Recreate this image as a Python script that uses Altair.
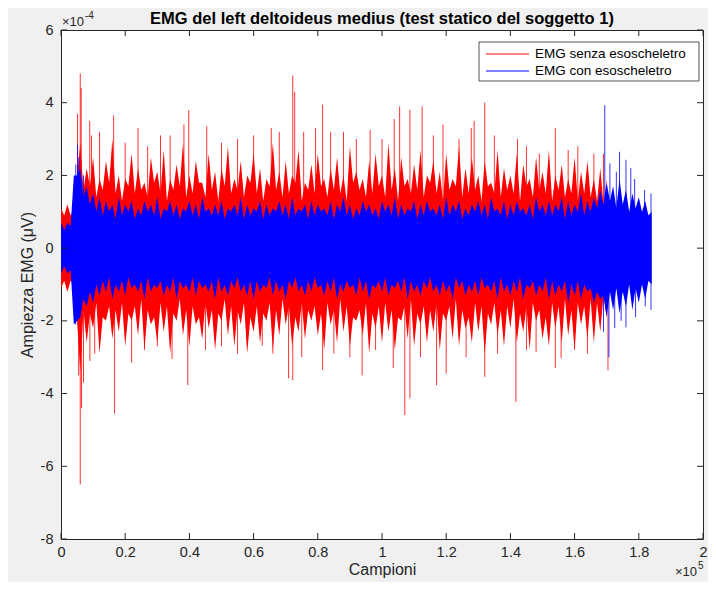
import altair as alt
import pandas as pd

RED_NAME = "EMG senza esoscheletro"
BLUE_NAME = "EMG con esoscheletro"
TITLE = "EMG del left deltoideus medius (test statico del soggetto 1)"

# ---- axis ticks (x in samples, y in units of 1e-4) ----
XTICKS = list(range(0, 200001, 20000))
YTICKS = [-8, -6, -4, -2, 0, 2, 4, 6]

# ---- red series (senza esoscheletro) ----
# local peaks of the envelope, every 2000 samples
RED_X = list(range(0, 170001, 2000))
RED_TOP = [1.1, 1.2, 1.1, 2.9, 2.2, 2.5, 1.9, 2.4, 3.0, 2.0,
           1.9, 2.6, 2.2, 1.8, 2.5, 2.1, 2.7, 1.9, 2.3, 2.9,
           2.0, 2.4, 1.8, 2.6, 2.1, 2.2, 2.8, 1.9, 2.4, 2.0,
           2.6, 2.2, 1.9, 2.9, 2.1, 2.4, 2.0, 2.7, 1.8, 2.3,
           2.6, 1.9, 2.2, 2.5, 2.0, 2.8, 2.1, 1.9, 2.4, 2.6,
           2.0, 2.9, 2.2, 2.5, 1.9, 2.3, 2.7, 2.0, 2.4, 2.1,
           2.6, 1.9, 2.8, 2.2, 2.5, 2.0, 2.4, 1.8, 2.7, 2.2,
           2.0, 2.6, 2.3, 1.9, 2.5, 2.1, 2.7, 2.0, 2.3, 1.9,
           2.5, 2.1, 2.4, 1.9, 2.2, 1.9]
RED_BOT = [-1.1, -1.2, -1.0, -3.4, -2.6, -2.2, -2.9, -2.0, -2.5, -2.3,
           -2.7, -2.0, -2.4, -2.8, -2.1, -2.6, -2.3, -2.9, -2.0, -2.4,
           -2.7, -2.1, -2.5, -2.2, -2.8, -2.0, -2.4, -2.7, -2.1, -2.9,
           -2.3, -2.6, -2.0, -2.8, -2.4, -2.1, -2.7, -2.3, -2.5, -2.0,
           -2.4, -2.8, -2.1, -2.6, -2.3, -2.7, -2.0, -2.4, -2.9, -2.2,
           -2.6, -2.3, -2.8, -2.0, -2.5, -2.7, -2.1, -2.6, -2.3, -2.8,
           -2.0, -2.5, -2.7, -2.2, -2.6, -2.3, -2.9, -2.1, -2.4, -2.7,
           -2.2, -2.6, -2.3, -2.8, -2.0, -2.5, -2.7, -2.2, -2.6, -2.4,
           -2.8, -2.1, -2.5, -2.6, -2.3, -1.9]
# local valleys of the envelope, in between the peaks
RED_VX = list(range(1000, 170000, 2000))
RED_VTOP = [0.9, 0.9, 1.9, 1.6, 1.7, 1.4, 1.6, 1.8, 1.5, 1.3,
            1.7, 1.5, 1.6, 1.4, 1.8, 1.5, 1.3, 1.6, 1.7, 1.4,
            1.5, 1.8, 1.4, 1.6, 1.3, 1.7, 1.5, 1.6, 1.4, 1.8,
            1.5, 1.3, 1.7, 1.6, 1.4, 1.5, 1.8, 1.3, 1.6, 1.5,
            1.7, 1.4, 1.6, 1.5, 1.3, 1.8, 1.6, 1.4, 1.5, 1.7,
            1.4, 1.6, 1.3, 1.7, 1.5, 1.6, 1.4, 1.8, 1.5, 1.3,
            1.6, 1.7, 1.4, 1.5, 1.6, 1.3, 1.7, 1.5, 1.4, 1.6,
            1.5, 1.3, 1.7, 1.4, 1.6, 1.5, 1.3, 1.6, 1.4, 1.5,
            1.3, 1.5, 1.4, 1.3, 1.2]
RED_VBOT = [-0.9, -0.9, -2.0, -1.7, -1.8, -1.5, -1.9, -1.6, -1.7, -1.5,
            -1.8, -1.6, -1.4, -1.7, -1.9, -1.5, -1.6, -1.8, -1.4, -1.7,
            -1.6, -1.9, -1.5, -1.7, -1.8, -1.4, -1.6, -1.7, -1.5, -1.9,
            -1.6, -1.8, -1.5, -1.7, -1.4, -1.6, -1.9, -1.5, -1.7, -1.6,
            -1.8, -1.5, -1.7, -1.4, -1.6, -1.9, -1.7, -1.5, -1.8, -1.6,
            -1.5, -1.7, -1.9, -1.6, -1.4, -1.8, -1.6, -1.7, -1.5, -1.8,
            -1.6, -1.4, -1.7, -1.9, -1.5, -1.6, -1.8, -1.5, -1.7, -1.6,
            -1.4, -1.8, -1.6, -1.5, -1.7, -1.9, -1.5, -1.6, -1.4, -1.7,
            -1.5, -1.6, -1.4, -1.5, -1.3]

# prominent red spikes
RED_SPK_UP_X = [5150, 6000, 6300, 8950, 9500, 12000, 16400, 20000, 24000, 27000,
                31000, 34000, 38300, 39800, 45400, 50000, 55000, 60000, 65500, 68000,
                72200, 72800, 75600, 79300, 81500, 84000, 88000, 92000, 96300, 100000,
                103800, 105500, 108700, 112500, 116000, 119000, 124000, 127800, 128700, 132000,
                135000, 142200, 145000, 149000, 154000, 158000, 161000, 166000, 169000]
RED_SPK_UP_V = [3.7, 4.8, 4.4, 3.5, 3.1, 3.2, 3.65, 2.9, 3.3, 2.8,
                3.1, 3.1, 3.4, 3.8, 3.35, 2.9, 3.0, 3.1, 3.3, 3.2,
                4.75, 4.3, 3.2, 3.3, 3.95, 3.2, 3.2, 3.0, 3.25, 3.0,
                3.55, 3.9, 3.8, 3.9, 3.1, 3.4, 3.0, 3.3, 3.5, 4.0,
                3.1, 3.0, 2.8, 2.6, 3.3, 2.7, 2.8, 2.6, 2.6]
RED_SPK_DN_X = [5500, 6000, 6400, 7000, 9000, 10500, 16700, 22000, 26000, 30000,
                34600, 39500, 45000, 50000, 55000, 58000, 62700, 66000, 70900, 72200,
                75000, 81500, 85000, 90000, 93800, 98000, 103500, 107100, 108700, 112000,
                117000, 120000, 126200, 132000, 136000, 141700, 145000, 148000, 154000, 155800,
                160000, 164000, 170400]
RED_SPK_DN_V = [-3.5, -6.5, -4.4, -3.7, -3.1, -2.9, -4.55, -3.15, -2.8, -2.7,
                -3.05, -3.77, -2.8, -2.7, -2.9, -2.6, -2.68, -2.9, -3.58, -3.63,
                -3.0, -3.35, -2.9, -3.0, -3.5, -2.8, -3.3, -4.59, -4.13, -3.0,
                -3.77, -3.45, -3.0, -3.54, -2.9, -4.23, -2.8, -2.85, -3.3, -3.03,
                -2.8, -2.9, -3.36]

# ---- blue series (con esoscheletro) ----
BLUE_X = list(range(0, 184001, 2000))
BLUE_TOP = [0.7, 0.7, 2.0, 2.2, 1.7, 1.5, 1.4, 1.3, 1.2, 1.4,
            1.2, 1.3, 1.1, 1.3, 1.2, 1.4, 1.1, 1.3, 1.2, 1.1,
            1.3, 1.2, 1.4, 1.1, 1.2, 1.3, 1.1, 1.2, 1.4, 1.2,
            1.1, 1.3, 1.2, 1.1, 1.3, 1.2, 1.4, 1.1, 1.2, 1.3,
            1.2, 1.1, 1.3, 1.2, 1.4, 1.2, 1.1, 1.3, 1.2, 1.1,
            1.3, 1.2, 1.4, 1.2, 1.1, 1.3, 1.2, 1.3, 1.1, 1.2,
            1.4, 1.2, 1.3, 1.1, 1.2, 1.3, 1.2, 1.4, 1.1, 1.3,
            1.2, 1.3, 1.1, 1.2, 1.4, 1.2, 1.3, 1.2, 1.4, 1.3,
            1.2, 1.5, 1.3, 1.4, 1.6, 1.8, 1.7, 1.9, 1.6, 1.5,
            1.4, 1.3, 1.0]
BLUE_BOT = [-0.7, -0.7, -2.1, -1.9, -1.6, -1.5, -1.3, -1.2, -1.4, -1.2,
            -1.3, -1.1, -1.2, -1.4, -1.2, -1.1, -1.3, -1.2, -1.4, -1.1,
            -1.2, -1.3, -1.1, -1.2, -1.4, -1.2, -1.3, -1.1, -1.2, -1.3,
            -1.4, -1.2, -1.1, -1.3, -1.2, -1.4, -1.1, -1.2, -1.3, -1.2,
            -1.1, -1.3, -1.2, -1.4, -1.2, -1.1, -1.3, -1.2, -1.4, -1.1,
            -1.2, -1.3, -1.1, -1.2, -1.4, -1.2, -1.3, -1.1, -1.2, -1.3,
            -1.2, -1.4, -1.1, -1.3, -1.2, -1.3, -1.1, -1.2, -1.4, -1.2,
            -1.3, -1.2, -1.4, -1.1, -1.3, -1.2, -1.4, -1.3, -1.2, -1.5,
            -1.3, -1.4, -1.2, -1.5, -1.4, -1.9, -1.7, -1.8, -1.6, -1.7,
            -1.5, -1.4, -1.0]
BLUE_VX = list(range(1000, 184000, 2000))
BLUE_VTOP = [0.5, 0.6, 2.0, 1.4, 1.2, 1.0, 0.9, 1.0, 0.8, 0.9,
             1.0, 0.8, 0.9, 1.0, 0.9, 0.8, 1.0, 0.9, 0.8, 1.0,
             0.9, 0.8, 1.0, 0.9, 0.9, 0.8, 1.0, 0.9, 0.8, 0.9,
             1.0, 0.8, 0.9, 1.0, 0.9, 0.8, 0.9, 1.0, 0.8, 0.9,
             1.0, 0.9, 0.8, 1.0, 0.9, 0.8, 0.9, 1.0, 0.9, 0.8,
             1.0, 0.9, 0.8, 0.9, 1.0, 0.8, 0.9, 1.0, 0.9, 0.8,
             0.9, 1.0, 0.8, 0.9, 1.0, 0.9, 0.8, 1.0, 0.9, 0.8,
             0.9, 1.0, 0.9, 0.8, 1.0, 0.9, 0.9, 1.0, 0.8, 0.9,
             1.0, 0.9, 1.0, 1.1, 1.2, 1.3, 1.1, 1.2, 1.0, 1.1,
             1.0, 0.9]
BLUE_VBOT = [-0.5, -0.6, -2.0, -1.4, -1.2, -1.0, -0.9, -0.8, -1.0, -0.9,
             -0.8, -1.0, -0.9, -0.8, -1.0, -0.9, -1.0, -0.8, -0.9, -1.0,
             -0.8, -0.9, -1.0, -0.9, -0.8, -1.0, -0.9, -0.8, -1.0, -0.9,
             -0.9, -1.0, -0.8, -0.9, -1.0, -0.9, -0.8, -1.0, -0.9, -0.8,
             -1.0, -0.9, -0.8, -1.0, -0.9, -1.0, -0.8, -0.9, -1.0, -0.9,
             -0.8, -1.0, -0.9, -0.8, -0.9, -1.0, -0.9, -0.8, -1.0, -0.9,
             -1.0, -0.8, -0.9, -1.0, -0.9, -0.8, -1.0, -0.9, -0.8, -1.0,
             -0.9, -0.8, -1.0, -0.9, -1.0, -0.8, -0.9, -1.0, -0.9, -1.0,
             -0.9, -1.0, -1.1, -1.2, -1.3, -1.2, -1.1, -1.2, -1.0, -1.1,
             -1.0, -0.9]

BLUE_SPK_UP_X = [4600, 5150, 5600, 7000, 169400, 171000, 173000, 174000, 176000, 177500, 178700, 181800, 183800]
BLUE_SPK_UP_V = [2.3, 2.84, 2.5, 2.0, 3.93, 2.33, 2.1, 2.65, 2.43, 2.2, 1.9, 1.6, 1.5]
BLUE_SPK_DN_X = [4600, 5000, 169000, 170700, 172500, 174500, 176000, 179000, 182000, 183800]
BLUE_SPK_DN_V = [-2.1, -2.0, -2.3, -3.0, -2.2, -2.0, -2.18, -1.9, -1.6, -1.7]

FONT = "Liberation Sans"
RED, BLUE = "#ff0000", "#0000ff"
W, H = 642, 509
INK = "#262626"

red_env = pd.DataFrame({"x": RED_X + RED_VX, "top": RED_TOP + RED_VTOP,
                        "bot": RED_BOT + RED_VBOT}).sort_values("x")
red_spk = pd.DataFrame({"x": RED_SPK_UP_X + RED_SPK_DN_X,
                        "top": RED_SPK_UP_V + RED_SPK_DN_V,
                        "bot": [0.0] * (len(RED_SPK_UP_X) + len(RED_SPK_DN_X))})
blue_env = pd.DataFrame({"x": BLUE_X + BLUE_VX, "top": BLUE_TOP + BLUE_VTOP,
                         "bot": BLUE_BOT + BLUE_VBOT}).sort_values("x")
blue_spk = pd.DataFrame({"x": BLUE_SPK_UP_X + BLUE_SPK_DN_X,
                         "top": BLUE_SPK_UP_V + BLUE_SPK_DN_V,
                         "bot": [0.0] * (len(BLUE_SPK_UP_X) + len(BLUE_SPK_DN_X))})

xenc = alt.X("x:Q", scale=alt.Scale(domain=[0, 200000], nice=False, zero=False),
             axis=alt.Axis(values=XTICKS, title="Campioni", ticks=False, domain=False, grid=False,
                           labelFlush=False, labelOverlap=False,
                           labelExpr="datum.value == 0 ? '0' : format(datum.value / 100000, '.1~f')",
                           labelPadding=6, titlePadding=3))
yenc = alt.Y("top:Q", scale=alt.Scale(domain=[-8, 6], nice=False, zero=False),
             axis=alt.Axis(values=YTICKS, title="Ampiezza EMG (μV)", ticks=False, domain=False, grid=False,
                           labelFlush=False, labelOverlap=False,
                           labelExpr="'' + datum.value", labelPadding=8, titlePadding=5))

red_area = alt.Chart(red_env).mark_area(color=RED, interpolate="linear").encode(x=xenc, y=yenc, y2="bot:Q")
red_spikes = alt.Chart(red_spk).mark_rule(color=RED, strokeWidth=1, opacity=0.8).encode(x=xenc, y=yenc, y2="bot:Q")
blue_area = alt.Chart(blue_env).mark_area(color=BLUE, interpolate="linear").encode(x=xenc, y=yenc, y2="bot:Q")
blue_spikes = alt.Chart(blue_spk).mark_rule(color=BLUE, strokeWidth=1, opacity=0.8).encode(x=xenc, y=yenc, y2="bot:Q")

# inward tick marks on all four sides (MATLAB box style)
xt = pd.DataFrame({"x": XTICKS})
yt = pd.DataFrame({"top": YTICKS})
xt_bot = alt.Chart(xt).mark_rule(color=INK).encode(x=xenc, y=alt.value(H), y2=alt.value(H - 6))
xt_top = alt.Chart(xt).mark_rule(color=INK).encode(x=xenc, y=alt.value(0), y2=alt.value(6))
yt_l = alt.Chart(yt).mark_rule(color=INK).encode(y=yenc, x=alt.value(0), x2=alt.value(6))
yt_r = alt.Chart(yt).mark_rule(color=INK).encode(y=yenc, x=alt.value(W), x2=alt.value(W - 6))

one = pd.DataFrame({"k": [0]})


def txt(s, x, y, size, align="left", weight="normal", color=INK, baseline="alphabetic"):
    return alt.Chart(one).mark_text(
        align=align, baseline=baseline, font=FONT, fontSize=size, fontWeight=weight, color=color
    ).encode(x=alt.value(x), y=alt.value(y), text=alt.value(s))


title = txt(TITLE, W / 2, -6, 16.5, align="center", weight="bold", color="black")
exp_y = txt("×10", 1, -4, 13) + txt("-4", 24, -11, 10)
exp_x = txt("×10", W - 6, H + 37, 13, align="right") + txt("5", W - 5, H + 30, 10)

# legend box (MATLAB style, top right inside the axes)
LX0, LX1, LY0, LY1 = W - 224, W - 4, 12, 51
leg_box = alt.Chart(one).mark_rect(fill="white", stroke=INK, strokeWidth=0.8).encode(
    x=alt.value(LX0), x2=alt.value(LX1), y=alt.value(LY0), y2=alt.value(LY1))
leg_red = alt.Chart(one).mark_rule(color=RED, strokeWidth=1).encode(
    x=alt.value(LX0 + 7), x2=alt.value(LX0 + 50), y=alt.value(LY0 + 12))
leg_blue = alt.Chart(one).mark_rule(color=BLUE, strokeWidth=1).encode(
    x=alt.value(LX0 + 7), x2=alt.value(LX0 + 50), y=alt.value(LY0 + 29))
leg_t1 = txt(RED_NAME, LX0 + 56, LY0 + 12, 13.5, baseline="middle", color="black")
leg_t2 = txt(BLUE_NAME, LX0 + 56, LY0 + 29, 13.5, baseline="middle", color="black")

chart = alt.layer(
    red_area, red_spikes, blue_area, blue_spikes,
    xt_bot, xt_top, yt_l, yt_r,
    title, exp_y, exp_x,
    leg_box, leg_red, leg_blue, leg_t1, leg_t2
).properties(
    width=W, height=H,
    autosize=alt.AutoSizeParams(type="none"),
    padding={"left": 53, "top": 22, "right": 5, "bottom": 43},
).configure(
    background="#f0f0f0"
).configure_view(
    fill="white", stroke=INK, strokeWidth=1
).configure_axis(
    labelFont=FONT, labelFontSize=14.5, labelColor=INK,
    titleFont=FONT, titleFontSize=16, titleColor=INK, titleFontWeight="normal"
)

chart.save("out.html", embed_options={"renderer": "svg", "actions": False})
